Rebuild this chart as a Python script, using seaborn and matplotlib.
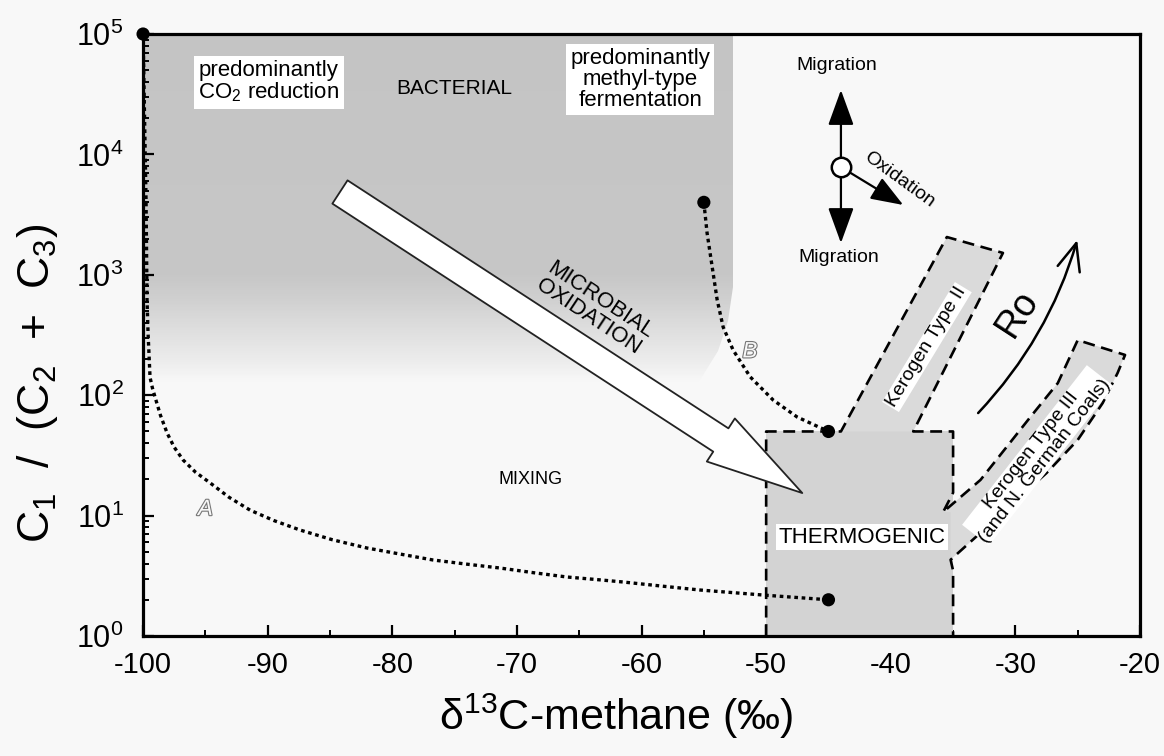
import matplotlib
matplotlib.use("Agg")
import matplotlib.pyplot as plt
import numpy as np
import seaborn as sns
import matplotlib.patheffects as pe
from matplotlib.patches import Polygon, FancyArrowPatch, ArrowStyle
from matplotlib.colors import LinearSegmentedColormap
from matplotlib.ticker import MultipleLocator, LogLocator

sns.set_theme(style="ticks", rc={'text.color': 'black', 'axes.labelcolor': 'black',
                                 'xtick.color': 'black', 'ytick.color': 'black'})
plt.rcParams['font.family'] = ['Liberation Sans', 'DejaVu Sans']
plt.rcParams['mathtext.fontset'] = 'custom'
plt.rcParams['mathtext.rm'] = 'Liberation Sans'
plt.rcParams['mathtext.it'] = 'Liberation Sans:italic'
plt.rcParams['mathtext.bf'] = 'Liberation Sans:bold'
plt.rcParams['mathtext.default'] = 'regular'
plt.rcParams['axes.unicode_minus'] = False

BG = '#f8f8f8'

# mixing curve A (CO2-reduction end member -> thermogenic)
curve_a_x = [-100, -99.76, -99.68, -99.6, -99.44, -99.25, -99.04, -98.6, -98.07, -97.5,
             -96.79, -95.8, -94.62, -93.1, -91.41, -89.5, -87.4, -84.8, -82.02, -79.4,
             -76.73, -74.0, -71.35, -68.7, -65.97, -63.7, -61.48, -58.4, -55.3, -50.0, -45]
curve_a_y = [1e5, 4170, 617, 331, 141, 115, 96.6, 68, 48.5, 37,
             29.0, 23.0, 18.7, 14.2, 11.1, 9.1, 7.59, 6.3, 5.38, 4.8,
             4.28, 3.95, 3.67, 3.36, 3.09, 2.95, 2.81, 2.6, 2.41, 2.18, 2.0]

# mixing curve B (methyl-type fermentation -> thermogenic)
curve_b_x = [-55.0, -54.74, -54.33, -53.93, -53.45, -52.65, -51.28, -49.44, -47.51, -45.0]
curve_b_y = [4000, 2223, 1161, 618, 368, 237, 142, 91.2, 65.9, 50]

# end members
dot_x = [-100, -55, -45, -45]
dot_y = [1e5, 4000, 50, 2]

# bacterial field (shaded) and its fade-out
bact_x = [-100, -52.7, -52.7, -53.1, -53.9, -55.3, -56.5, -100]
bact_y = [1e5, 1e5, 794, 417, 234, 135, 100, 100]
shade_logy = [2.1, 2.3, 2.55, 2.8, 3.0, 5.0]
shade_level = [0.0, 0.25, 0.5, 0.78, 0.95, 1.0]

# thermogenic box and kerogen bands
thermo_x = [-50, -50, -35, -35]
thermo_y = [1, 50, 50, 1]
k2_x = [-44.0, -35.5, -31.0, -38.2]
k2_y = [50, 2060, 1520, 50]
k3_x = [-35.8, -32.8, -28.8, -26.6, -25.0, -21.2, -21.8, -23.0, -25.0, -27.5, -30.2, -32.8, -35.2, -35.2]
k3_y = [10.7, 19.8, 65.9, 126, 287, 216, 153, 86, 42.5, 22.6, 12.7, 7.2, 4.3, 10.7]
outline_x = [-50, -50, -44.0, -35.5, -31.0, -38.2, -35, -35, -35.8, -32.8, -28.8, -26.6, -25.0,
             -21.2, -21.8, -23.0, -25.0, -27.5, -30.2, -32.8, -35.2, -35, -35]
outline_y = [1, 50, 50, 2060, 1520, 50, 50, 15.5, 10.7, 19.8, 65.9, 126, 287,
             216, 153, 86, 42.5, 22.6, 12.7, 7.2, 4.3, 3.5, 1]

fig = plt.figure(figsize=(11.64, 7.56), dpi=100, facecolor=BG)
ax = fig.add_axes([0.1229, 0.1587, 0.8565, 0.7963])
ax.set_facecolor(BG)
ax.set_yscale('log')
ax.set_xlim(-100, -20)
ax.set_ylim(1, 1e5)

# bacterial shading
edges = 10 ** np.linspace(2.0, 5.0, 301)
mids = np.log10(np.sqrt(edges[:-1] * edges[1:]))
lev = np.interp(mids, shade_logy, shade_level)
cmap = LinearSegmentedColormap.from_list('bact', [BG, '#c4c4c4'])
mesh = ax.pcolormesh([-100, -52.7], edges, lev[:, None], cmap=cmap, vmin=0, vmax=1,
                     shading='flat', zorder=0.5)
clip = Polygon(list(zip(bact_x, bact_y)), transform=ax.transData)
mesh.set_clip_path(clip)

ax.fill(thermo_x, thermo_y, color='#d3d3d3', lw=0, zorder=1)
ax.fill(k2_x, k2_y, color='#dadada', lw=0, zorder=1)
ax.fill(k3_x, k3_y, color='#dadada', lw=0, zorder=1)
ax.plot(outline_x, outline_y, color='black', lw=1.9, linestyle=(0, (4.5, 2.5)), zorder=2)

# microbial oxidation arrow
big = FancyArrowPatch((-84.2, 4875), (-47.1, 15.4),
                      arrowstyle=ArrowStyle.Simple(head_length=70, head_width=37, tail_width=20),
                      mutation_scale=1, shrinkA=0, shrinkB=0,
                      fc='white', ec='#222222', lw=1.3, zorder=3)
ax.add_patch(big)

sns.lineplot(x=curve_a_x, y=curve_a_y, sort=False, estimator=None, ax=ax, color='black',
             lw=2.4, linestyle=(0, (1.1, 1.1)), zorder=4)
sns.lineplot(x=curve_b_x, y=curve_b_y, sort=False, estimator=None, ax=ax, color='black',
             lw=2.4, linestyle=(0, (1.1, 1.1)), zorder=4)
sns.scatterplot(x=dot_x, y=dot_y, ax=ax, color='black', s=90, edgecolor='none',
                zorder=5, clip_on=False)

# migration / oxidation symbol
circ = (-44.0, 7852)
ax.annotate('', xy=(-44.0, 34280), xytext=circ,
            arrowprops=dict(arrowstyle='-|>,head_length=2.2,head_width=0.8', mutation_scale=10,
                            color='black', lw=1.6, shrinkA=7, shrinkB=0), zorder=5)
ax.annotate('', xy=(-44.0, 1837), xytext=circ,
            arrowprops=dict(arrowstyle='-|>,head_length=2.2,head_width=0.8', mutation_scale=10,
                            color='black', lw=1.6, shrinkA=7, shrinkB=0), zorder=5)
ax.annotate('', xy=(-39.0, 3802), xytext=circ,
            arrowprops=dict(arrowstyle='-|>,head_length=2.0,head_width=0.75', mutation_scale=10,
                            color='black', lw=1.6, shrinkA=7, shrinkB=0), zorder=5)
ax.plot([circ[0]], [circ[1]], marker='o', ms=14, mfc='white', mec='black', mew=1.8, zorder=6)

# Ro maturity arrow
ax.annotate('', xy=(-25.04, 1945), xytext=(-32.99, 71.1),
            arrowprops=dict(arrowstyle='->,head_length=1.3,head_width=0.55', mutation_scale=15,
                            color='black', lw=1.8, shrinkA=0, shrinkB=0,
                            connectionstyle='arc3,rad=0.12'), zorder=5)

white = dict(fc='white', ec='none', pad=3)
ax.text(-89.9, 10 ** 4.60, 'predominantly\nCO$_2$ reduction', ha='center', va='center',
        fontsize=16, linespacing=1.0, bbox=white, zorder=6)
ax.text(-75.0, 10 ** 4.55, 'BACTERIAL', ha='center', va='center', fontsize=15, zorder=6)
ax.text(-60.1, 10 ** 4.62, 'predominantly\nmethyl-type\nfermentation', ha='center', va='center',
        fontsize=16, linespacing=1.0, bbox=white, zorder=6)
ax.text(-63.8, 10 ** 2.72, 'MICROBIAL\nOXIDATION', ha='center', va='center', fontsize=16,
        rotation=-33.5, rotation_mode='anchor', linespacing=0.95, zorder=6)
ax.text(-68.9, 10 ** 1.30, 'MIXING', ha='center', va='center', fontsize=13, zorder=6)
ax.text(-42.3, 10 ** 0.82, 'THERMOGENIC', ha='center', va='center', fontsize=16,
        bbox=dict(fc='white', ec='none', pad=2), zorder=6)
ax.text(-37.1, 10 ** 2.40, 'Kerogen Type II', ha='center', va='center', fontsize=14,
        rotation=58.7, rotation_mode='anchor', bbox=dict(fc='white', ec='none', pad=1), zorder=6)
ax.text(-28.2, 10 ** 1.50, 'Kerogen Type III\n(and N. German Coals)', ha='center', va='center',
        fontsize=14, rotation=52, rotation_mode='anchor', linespacing=1.0,
        bbox=dict(fc='white', ec='none', pad=0), zorder=6)
ax.text(-44.3, 10 ** 4.74, 'Migration', ha='center', va='center', fontsize=14, zorder=6)
ax.text(-44.2, 10 ** 3.14, 'Migration', ha='center', va='center', fontsize=14, zorder=6)
ax.text(-39.3, 10 ** 3.79, 'Oxidation', ha='center', va='center', fontsize=14,
        rotation=-36, rotation_mode='anchor', zorder=6)
ax.text(-29.85, 10 ** 2.68, 'Ro', ha='center', va='center', fontsize=27,
        rotation=57, rotation_mode='anchor', zorder=6)
outline_fx = [pe.withStroke(linewidth=1.6, foreground='#777777')]
ax.text(-95.0, 10 ** 1.05, 'A', ha='center', va='center', fontsize=16, style='italic',
        color=BG, path_effects=outline_fx, zorder=6)
ax.text(-51.3, 10 ** 2.36, 'B', ha='center', va='center', fontsize=16, style='italic',
        color=BG, path_effects=outline_fx, zorder=6)

ax.set_xlabel('δ$^{13}$C-methane (‰)', fontsize=31)
ax.set_ylabel('C$_1$  /  (C$_2$  +  C$_3$)', fontsize=32)
ax.xaxis.set_label_coords(0.475, -0.093)
ax.yaxis.set_label_coords(-0.083, 0.42)
ax.xaxis.set_major_locator(MultipleLocator(10))
ax.xaxis.set_minor_locator(MultipleLocator(5))
ax.yaxis.set_major_locator(LogLocator(base=10, numticks=10))
ax.yaxis.set_minor_locator(LogLocator(base=10, subs=np.arange(2, 10), numticks=20))
ax.tick_params(axis='both', which='major', direction='in', length=8, width=1.6,
               color='black', labelcolor='black')
ax.tick_params(axis='x', which='major', labelsize=21, pad=11)
ax.tick_params(axis='y', which='major', labelsize=22, pad=14)
ax.tick_params(axis='both', which='minor', direction='in', length=4.5, width=1.4, color='black')
for sp in ax.spines.values():
    sp.set_linewidth(2.3)
    sp.set_color('black')

fig.savefig('out.png', dpi=100, facecolor=BG)
